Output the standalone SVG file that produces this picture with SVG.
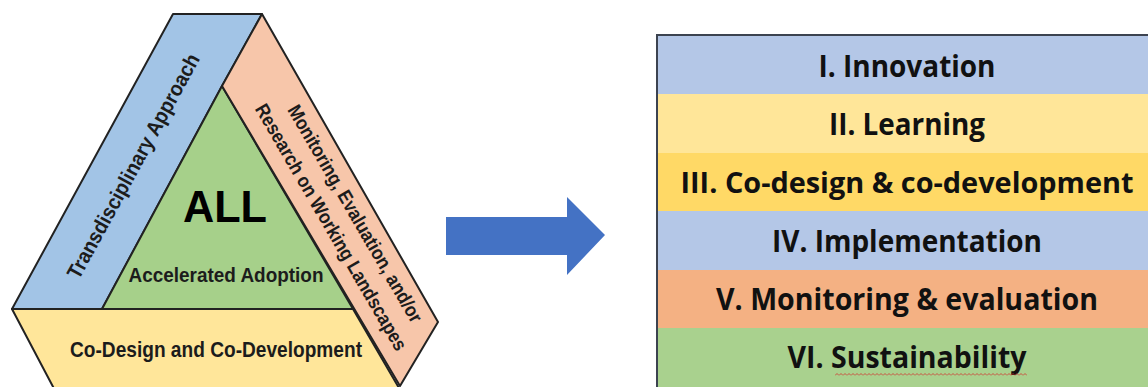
<svg xmlns="http://www.w3.org/2000/svg" width="1148" height="387" viewBox="0 0 1148 387">
  <style>
    .band { stroke: #222; stroke-width: 2; stroke-linejoin: round; }
    .lt { font-family: "Liberation Sans", Arial, sans-serif; font-weight: bold; fill: #1c1c1c; }
    .rt { font-family: "Open Sans", "Noto Sans", sans-serif; font-weight: bold; font-size: 30px; fill: #111; text-anchor: middle; }
  </style>
  <defs>
    <pattern id="wavy" patternUnits="userSpaceOnUse" x="835" y="373" width="4" height="3">
      <path d="M0,2.5 L2,0.5 L4,2.5" fill="none" stroke="#d0302a" stroke-width="0.8"/>
    </pattern>
  </defs>
  <rect width="1148" height="387" fill="#ffffff"/>

  <!-- Left triangle diagram -->
  <g id="codesign">
    <polygon class="band" points="12,309 353,309 406,400 60,400" fill="#FFE69A"/>
    <text class="lt" x="216" y="357" font-size="21.5" text-anchor="middle" textLength="292" lengthAdjust="spacingAndGlyphs">Co-Design and Co-Development</text>
  </g>
  <g id="transdisciplinary">
    <polygon class="band" points="173,14 262,14 222,86 102,309 12,309" fill="#A2C4E6"/>
    <text class="lt" transform="translate(133,166) rotate(-61.3)" x="0" y="7.5" font-size="21" text-anchor="middle" textLength="253" lengthAdjust="spacingAndGlyphs">Transdisciplinary Approach</text>
  </g>
  <g id="all">
    <polygon class="band" points="222,86 353,309 102,309" fill="#A6D08A"/>
    <text x="225" y="222" font-family="Liberation Sans, Arial, sans-serif" font-weight="bold" font-size="44" text-anchor="middle" fill="#000" textLength="84" lengthAdjust="spacingAndGlyphs">ALL</text>
    <text class="lt" x="226" y="282" font-size="20" text-anchor="middle" textLength="195" lengthAdjust="spacingAndGlyphs" fill="#1e2a14">Accelerated Adoption</text>
  </g>
  <g id="monitoring">
    <polygon class="band" points="262,14 438,322 400,386 222,86" fill="#F7C6AA"/>
    <text class="lt" transform="translate(355.5,213.5) rotate(59.8)" x="0" y="7" font-size="19.5" text-anchor="middle" textLength="248" lengthAdjust="spacingAndGlyphs">Monitoring, Evaluation, and/or</text>
    <text class="lt" transform="translate(331.5,227) rotate(59.8)" x="0" y="7" font-size="19.5" text-anchor="middle" textLength="282" lengthAdjust="spacingAndGlyphs">Research on Working Landscapes</text>
  </g>

  <!-- Connector -->
  <g id="connectors">
    <polygon points="446,217 567,217 567,197 605,235 567,275 567,255 446,255" fill="#4472C4"/>
  </g>

  <!-- Right stage list -->
  <g id="stages">
    <rect x="657" y="35" width="500" height="360" fill="#ffffff" stroke="#3c4350" stroke-width="2"/>
    <g id="stage1">
      <rect x="658" y="36" width="490" height="58" fill="#B4C7E7"/>
      <text class="rt" x="907" y="77" textLength="177" lengthAdjust="spacingAndGlyphs">I. Innovation</text>
    </g>
    <g id="stage2">
      <rect x="658" y="94" width="490" height="59" fill="#FFE699"/>
      <text class="rt" x="907" y="135" textLength="156" lengthAdjust="spacingAndGlyphs">II. Learning</text>
    </g>
    <g id="stage3">
      <rect x="658" y="153" width="490" height="58" fill="#FFD966"/>
      <text class="rt" x="907" y="193" style="font-size:28px" textLength="453" lengthAdjust="spacingAndGlyphs">III. Co-design &amp; co-development</text>
    </g>
    <g id="stage4">
      <rect x="658" y="211" width="490" height="59" fill="#B4C7E7"/>
      <text class="rt" x="907" y="252" textLength="270" lengthAdjust="spacingAndGlyphs">IV. Implementation</text>
    </g>
    <g id="stage5">
      <rect x="658" y="270" width="490" height="58" fill="#F4B183"/>
      <text class="rt" x="907" y="310" textLength="382" lengthAdjust="spacingAndGlyphs">V. Monitoring &amp; evaluation</text>
    </g>
    <g id="stage6">
      <rect x="658" y="328" width="490" height="60" fill="#A9D18E"/>
      <text class="rt" x="907" y="368" textLength="239" lengthAdjust="spacingAndGlyphs">VI. Sustainability</text>
      <rect x="835" y="373" width="192" height="3" fill="url(#wavy)"/>
    </g>
  </g>
</svg>
